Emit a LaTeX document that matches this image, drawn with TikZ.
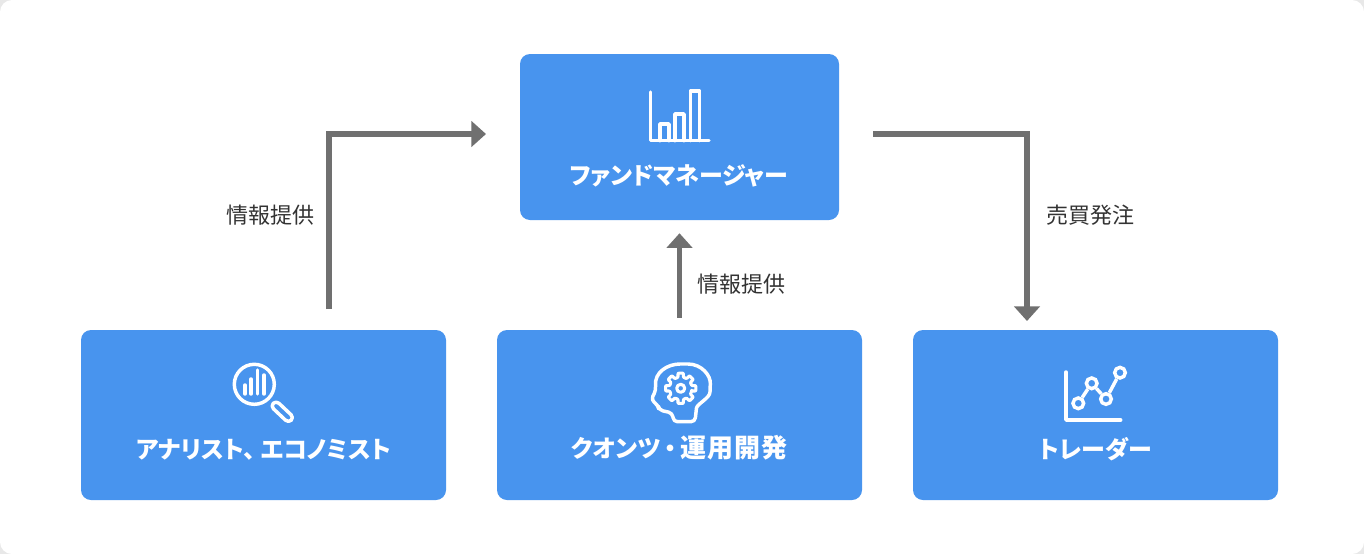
\documentclass[tikz,border=0pt]{standalone}
\usepackage{fontspec}
\usetikzlibrary{arrows.meta}
\newfontfamily\cjk[RawFeature=+palt]{Noto Sans CJK JP}
\newcommand{\spaced}[1]{{\fontsize{19.5}{22}\selectfont\addfontfeature{LetterSpace=3}#1}}
\definecolor{boxblue}{HTML}{4894EE}
\definecolor{flowgray}{HTML}{707070}
\definecolor{labelgray}{HTML}{333333}
\definecolor{cornergray}{HTML}{E8E8E8}
\begin{document}
\begin{tikzpicture}[x=0.75pt,y=-0.75pt]

    \tikzset{boxstyle/.style={fill=boxblue,rounded corners=7.5pt,inner sep=0pt},
        boxtext/.style={text=white,font=\cjk\bfseries\fontsize{18}{22}\selectfont},
        flowtext/.style={text=labelgray,font=\cjk\fontsize{16.5}{20}\selectfont},
        iconline/.style={draw=white,line width=2.6pt,line cap=round,line join=round},
        dot/.style={circle,draw=white,line width=2.6pt,minimum size=8pt,inner sep=0pt}}

    \useasboundingbox (0,0) rectangle (1364,554);
    \fill[cornergray] (0,0) rectangle (1364,554);
    \fill[white,rounded corners=9pt] (0,0) rectangle (1364,554);

    \node[boxstyle,minimum width=239.25pt,minimum height=124.5pt] (fm) at (679.5,137) {};
    \node[boxstyle,minimum width=273.75pt,minimum height=127.5pt] (analyst) at (263.5,415) {};
    \node[boxstyle,minimum width=273.75pt,minimum height=127.5pt] (quant) at (679.5,415) {};
    \node[boxstyle,minimum width=273.75pt,minimum height=127.5pt] (trader) at (1095.5,415) {};

    \node[boxtext] (fmtext) at (679,175.5) {ファンドマネージャー};
    \node[boxtext] (analysttext) at (263.5,449.5) {アナリスト、\hspace{4pt}エコノミスト};
    \node[boxtext,anchor=base] (quanttext) at (679.5,457) {クオンツ\hspace{3pt}・\hspace{3pt}\spaced{運用開発}};
    \node[boxtext] (tradertext) at (1095.5,449.5) {トレーダー};

    \node[flowtext] (info1) at (270,215) {情報提供};
    \node[flowtext] (info2) at (741,284) {情報提供};
    \node[flowtext] (order) at (1090,215) {売買発注};

    \coordinate (a1) at (329,309);
    \coordinate (a2) at (329,134);
    \coordinate (a3) at (486,134);
    \coordinate (t1) at (873,134);
    \coordinate (t2) at (1027,134);
    \coordinate (t3) at (1027,321);

    \begin{scope}[every path/.style={-{Triangle[width=19pt,length=11pt]},draw=flowgray,line width=4pt}]
        \draw (a1) -- (a2) -- (a3);
        \draw (t1) -- (t2) -- (t3);
        \draw[shorten <=9pt,shorten >=9.75pt] (quant.north) -- (fm.south);
    \end{scope}

    % bar chart
    \draw[iconline] (650.7,92) -- (650.7,140.7) -- (709,140.7);
    \draw[iconline] (660,140.7) -- (660,124) -- (669,124) -- (669,140.7);
    \draw[iconline] (675,140.7) -- (675,114) -- (684,114) -- (684,140.7);
    \draw[iconline] (690.5,140.7) -- (690.5,91) -- (699.5,91) -- (699.5,140.7);

    % magnifier
    \draw[iconline] (254.3,384.3) circle (15pt);
    \foreach \x/\y in {245/385,251/379,257.7/370,264/375}
        \draw[iconline] (\x,394) -- (\x,\y);
    \draw[iconline,rounded corners=3pt] (270.5,406) -- (276,400.5) -- (294,417.5) -- (288.5,423) -- cycle;

    % head with gear
    \draw[iconline,rounded corners=3pt] (673.5,421.7) -- (672.5,413) -- (659,410) -- (658,405) -- (651,400)
        -- (656,390) .. controls (654,372) and (668,364) .. (684,364)
        .. controls (702,364) and (711,376) .. (710,388)
        .. controls (710,398) and (697,404) .. (696,412) -- (695,421.7) -- cycle;
    \coordinate (gear) at (680.7,388.3);
    \draw[iconline,line width=2.3pt,rounded corners=0.5pt]
        ([shift={(gear)}]-14:8.5pt) \foreach \a in {0,45,...,315} {
        -- ([shift={(gear)}]\a-10:11.5pt) -- ([shift={(gear)}]\a+10:11.5pt) -- ([shift={(gear)}]\a+14:8.5pt) -- ([shift={(gear)}]\a+31:8.5pt)
        } -- cycle;
    \draw[iconline,line width=2.3pt] (gear) circle (3pt);

    % line chart
    \draw[iconline] (1066,372) -- (1066,420) -- (1120.7,420);
    \node[dot] (d1) at (1078.3,403.3) {};
    \node[dot] (d2) at (1091.7,383.3) {};
    \node[dot] (d3) at (1106,399) {};
    \node[dot] (d4) at (1120,372.7) {};
    \draw[iconline,line cap=butt] (d1) -- (d2) -- (d3) -- (d4);

\end{tikzpicture}
\end{document}
